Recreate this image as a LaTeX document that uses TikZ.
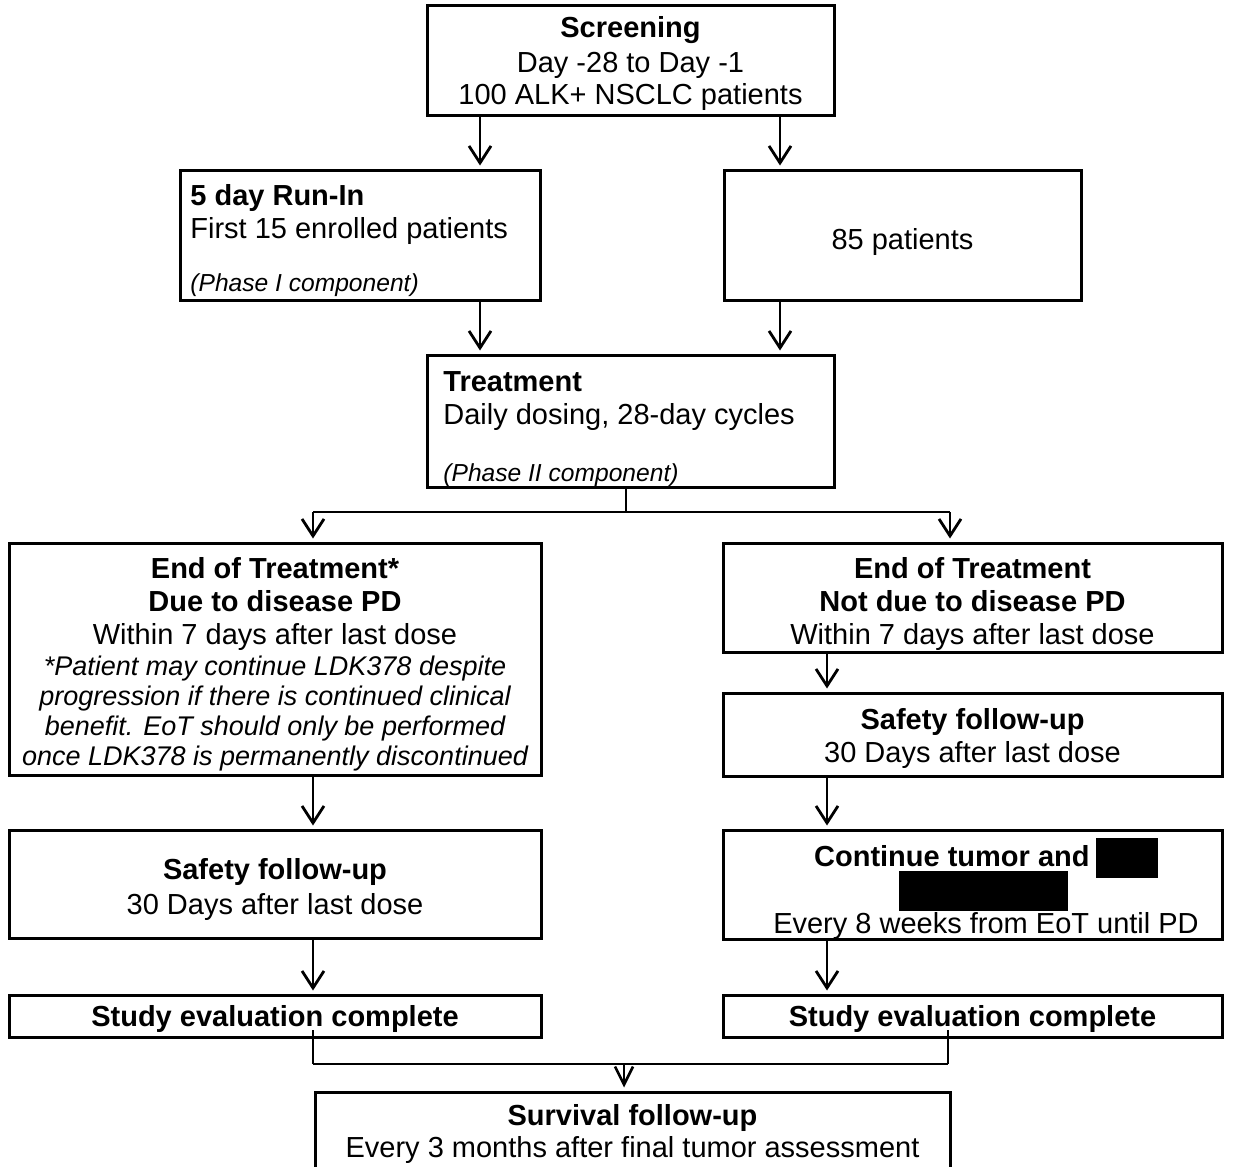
\documentclass[tikz,border=0pt]{standalone}
\usepackage{fontspec}
\setmainfont{Liberation Sans}
\usetikzlibrary{arrows.meta}
\begin{document}
\begin{tikzpicture}[x=0.5pt,y=-0.5pt,
  box/.style={draw, line width=1.5pt, inner sep=0pt},
  arr/.style={line width=1.4pt, shorten >=1.5pt, -{Straight Barb[length=8.5pt,width=11pt,line width=1.4pt]}},
  ln/.style={line width=1.4pt},
  tx/.style={anchor=base, inner sep=0pt, font=\fontsize{14.5}{16}\selectfont},
  txb/.style={anchor=base, inner sep=0pt, font=\fontsize{14.5}{16}\selectfont\bfseries},
  txl/.style={anchor=base west, inner sep=0pt, font=\fontsize{14.5}{16}\selectfont},
  txlb/.style={anchor=base west, inner sep=0pt, font=\fontsize{14.5}{16}\selectfont\bfseries},
  txi/.style={anchor=base west, inner sep=0pt, font=\fontsize{12.3}{14}\selectfont\itshape},
  txni/.style={anchor=base, inner sep=0pt, font=\fontsize{13.5}{15}\selectfont\itshape}]
\useasboundingbox (0,0) rectangle (1249,1167);
\clip (0,0) rectangle (1249,1167);
\fill[white] (0,0) rectangle (1249,1167);

% boxes
\node[box, minimum width=203.5pt, minimum height=55pt] (scr) at (630.5,60) {};
\node[box, minimum width=180pt, minimum height=65pt] (runin) at (360,235) {};
\node[box, minimum width=178.5pt, minimum height=65pt] (p85) at (902.5,235) {};
\node[box, minimum width=203.5pt, minimum height=66pt] (treat) at (630.5,421) {};
\node[box, minimum width=266pt, minimum height=116pt] (eotL) at (275,659) {};
\node[box, minimum width=249.5pt, minimum height=54.5pt] (eotR) at (972.5,597.5) {};
\node[box, minimum width=249.5pt, minimum height=41.5pt] (safR) at (972.5,734.5) {};
\node[box, minimum width=249.5pt, minimum height=54.5pt] (cont) at (972.5,884.5) {};
\node[box, minimum width=249.5pt, minimum height=21pt] (stuR) at (972.5,1016) {};
\node[box, minimum width=266pt, minimum height=54pt] (safL) at (275,884) {};
\node[box, minimum width=266pt, minimum height=21pt] (stuL) at (275,1016) {};
\node[box, minimum width=317.5pt, minimum height=60pt] (surv) at (632.5,1152) {};

% texts
\node[txb] (s1) at (630.5,38) {Screening};
\node[tx] (s2) at (630.5,72) {Day -28 to Day -1};
\node[tx] (s3) at (630.5,104) {100 ALK+ NSCLC patients};

\node[txlb] (r1) at (190,205) {5 day Run-In};
\node[txl] (r2) at (190,238) {First 15 enrolled patients};
\node[txi] (r3) at (190,291) {(Phase I component)};

\node[tx] (p1) at (902.5,249) {85 patients};

\node[txlb] (tr1) at (443,391) {Treatment};
\node[txl] (tr2) at (443,424) {Daily dosing, 28-day cycles};
\node[txi] (tr3) at (443,481) {(Phase II component)};

\node[txb] (el1) at (275,578) {End of Treatment*};
\node[txb] (el2) at (275,611) {Due to disease PD};
\node[tx] (el3) at (275,644) {Within 7 days after last dose};
\node[txni] (el4) at (275,675) {*Patient may continue LDK378 despite};
\node[txni] (el5) at (275,705) {progression if there is continued clinical};
\node[txni] (el6) at (275,735) {benefit. EoT should only be performed};
\node[txni] (el7) at (275,765) {once LDK378 is permanently discontinued};

\node[txb] (er1) at (972.5,578) {End of Treatment};
\node[txb] (er2) at (972.5,611) {Not due to disease PD};
\node[tx] (er3) at (972.5,644) {Within 7 days after last dose};

\node[txb] (sr1) at (972.5,729) {Safety follow-up};
\node[tx] (sr2) at (972.5,762) {30 Days after last dose};

\node[txb, anchor=base east] (c1) at (1090,866) {Continue tumor and};
\node[tx] (c2) at (986,933) {Every 8 weeks from EoT until PD};
\fill (1096,838) rectangle (1158,878);
\fill (899,871) rectangle (1068,911);

\node[txb] (str) at (972.5,1026) {Study evaluation complete};

\node[txb] (sl1) at (275,879) {Safety follow-up};
\node[tx] (sl2) at (275,914) {30 Days after last dose};

\node[txb] (stl) at (275,1026) {Study evaluation complete};

\node[txb] (sv1) at (632.5,1125) {Survival follow-up};
\node[tx] (sv2) at (632.5,1157) {Every 3 months after final tumor assessment};

% helper x positions
\coordinate (xa) at (480,0);
\coordinate (xb) at (780,0);
\coordinate (xc) at (626,0);
\coordinate (xd) at (624,0);
\coordinate (xl) at (313,0);
\coordinate (xr) at (950,0);
\coordinate (xm) at (827,0);
\coordinate (xsr) at (948,0);
\coordinate (yb) at (0,512);
\coordinate (yj) at (0,1064);
\coordinate (ys) at (0,1030);

% connectors
\draw[arr] (scr.south -| xa) -- (runin.north -| xa);
\draw[arr] (scr.south -| xb) -- (p85.north -| xb);
\draw[arr] (runin.south -| xa) -- (treat.north -| xa);
\draw[arr] (p85.south -| xb) -- (treat.north -| xb);
\draw[ln] (treat.south -| xc) -- (xc |- yb);
\draw[ln] (xl |- yb) -- (xr |- yb);
\draw[arr] (xl |- yb) -- (eotL.north -| xl);
\draw[arr] (xr |- yb) -- (eotR.north -| xr);
\draw[arr] (eotR.south -| xm) -- (safR.north -| xm);
\draw[arr] (safR.south -| xm) -- (cont.north -| xm);
\draw[arr] (cont.south -| xm) -- (stuR.north -| xm);
\draw[arr] (eotL.south -| xl) -- (safL.north -| xl);
\draw[arr] (safL.south -| xl) -- (stuL.north -| xl);
\draw[ln] (xl |- ys) -- (xl |- yj);
\draw[ln] (xsr |- ys) -- (xsr |- yj);
\draw[ln] (xl |- yj) -- (xsr |- yj);
\draw[ln, shorten >=1.5pt, -{Straight Barb[length=9pt,width=9pt,line width=1.3pt]}] (xd |- yj) -- (surv.north -| xd);
\end{tikzpicture}
\end{document}
